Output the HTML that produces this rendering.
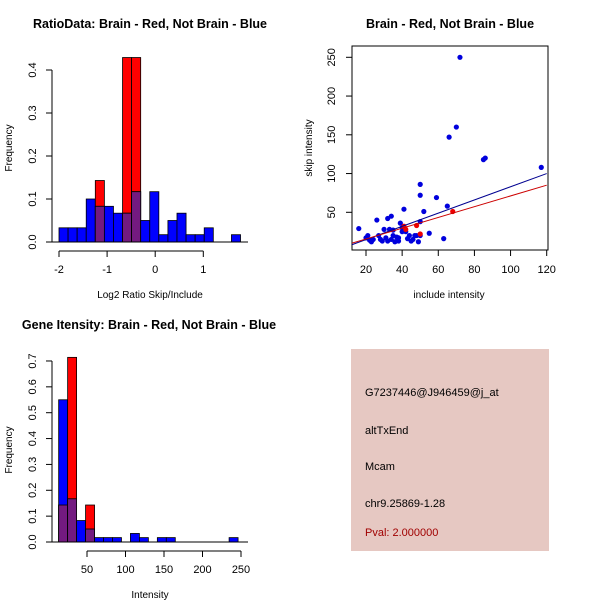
<!DOCTYPE html>
<html><head><meta charset="utf-8"><style>
body{margin:0;background:#fff}
svg{display:block;font-family:"Liberation Sans",sans-serif}
</style></head><body>
<svg id="c" width="600" height="600" viewBox="0 0 600 600">
<rect x="0" y="0" width="600" height="600" fill="#fff"/>
<text x="150" y="28" font-size="12.5" font-weight="bold" text-anchor="middle">RatioData: Brain - Red, Not Brain - Blue</text>
<text x="150" y="298" font-size="10" text-anchor="middle">Log2 Ratio Skip/Include</text>
<text transform="translate(12,148) rotate(-90)" font-size="10" text-anchor="middle">Frequency</text>
<text x="450" y="28" font-size="12.5" font-weight="bold" text-anchor="middle">Brain - Red, Not Brain - Blue</text>
<text x="449" y="298" font-size="10" text-anchor="middle">include intensity</text>
<text transform="translate(312,148) rotate(-90)" font-size="10" text-anchor="middle">skip intensity</text>
<text x="149" y="329" font-size="12.5" font-weight="bold" text-anchor="middle">Gene Itensity: Brain - Red, Not Brain - Blue</text>
<text x="150" y="598" font-size="10" text-anchor="middle">Intensity</text>
<text transform="translate(12,450) rotate(-90)" font-size="10" text-anchor="middle">Frequency</text>
<g>
<rect x="351" y="349" width="198" height="202" fill="#e6c8c2"/>
<text x="365" y="396" font-size="11">G7237446@J946459@j_at</text>
<text x="365" y="434" font-size="11">altTxEnd</text>
<text x="365" y="470" font-size="11">Mcam</text>
<text x="365" y="507" font-size="11">chr9.25869-1.28</text>
<text x="365" y="536" font-size="11" fill="#a00000">Pval: 2.000000</text>
</g>
</svg>
<script>
// Ratio histogram data
const ratioStart = -2, ratioBinW = 0.1887;
const ratioBlue = [0.033,0.033,0.033,0.1,0.083,0.083,0.067,0.067,0.117,0.05,0.117,0.017,0.05,0.067,0.017,0.017,0.033,0,0,0.017];
const ratioRed  = [0,0,0,0,0.143,0,0,0.429,0.429,0,0,0,0,0,0,0,0,0,0,0];
const ratioXTicks = [-2,-1,0,1];
const ratioYTicks = [0,0.1,0.2,0.3,0.4];
// Intensity histogram data
const intStart = 13.2, intBinW = 11.65;
const intBlue = [0.55,0.167,0.083,0.05,0.017,0.017,0.017,0,0.033,0.017,0,0.017,0.017,0,0,0,0,0,0,0.017];
const intRed  = [0.143,0.714,0,0.143,0,0,0,0,0,0,0,0,0,0,0,0,0,0,0,0];
const intXTicks = [50,100,150,200,250];
const intYTicks = [0,0.1,0.2,0.3,0.4,0.5,0.6,0.7];
// Scatter data
const blueX = [16,20,21,22,23,24,26,27,28,29,30,31,32,32,33,34,34,35,35,36,37,38,39,38,40,40,41,42,43,44,45,46,47,48,49,50,50,50,50,52,55,59,63,65,66,70,72,85,86,117];
const blueY = [29,17,20,14,12,15,40,20,15,13,28,17,42,13,28,45,15,20,27,12,18,13,36,17,30,25,54,25,16,20,13,15,20,20,12,86,72,38,20,51,23,69,16,58,147,160,250,118,120,108];
const redX = [41,42,48,50,68];
const redY = [32,28,33,22,51];
const blueLine = [[12,8],[120,100]];
const redLine = [[12,10],[120,85]];
const scXTicks = [20,40,60,80,100,120];
const scYTicks = [50,100,150,200,250];

const svg = document.getElementById('c');
const NS = 'http://www.w3.org/2000/svg';
function mk(tag, attrs){const e=document.createElementNS(NS,tag);for(const k in attrs)e.setAttribute(k,attrs[k]);svg.appendChild(e);return e;}

function hist(start,binW,blue,red,xs,ys,xTicks,yTicks,y0,yTop,prefix,xFmt){
  const sx=v=>xs[0]+(v-xs[1])*xs[2];
  const sy=v=>y0-v*ys;
  for(let i=0;i<blue.length;i++){
    const a=sx(start+i*binW), b=sx(start+(i+1)*binW);
    const r=red[i], bl=blue[i], m=Math.min(r,bl);
    if(r>0){const e=mk('rect',{x:a,y:sy(r),width:b-a,height:sy(0)-sy(r),fill:'#ff0000',stroke:'#000','stroke-width':0.8});
      
      }
    if(bl>0){const e=mk('rect',{x:a,y:sy(bl),width:b-a,height:sy(0)-sy(bl),fill:'#0000ff',stroke:'#000','stroke-width':0.8});
      
      }
    if(m>0){const e=mk('rect',{x:a,y:sy(m),width:b-a,height:sy(0)-sy(m),fill:'#731a80',stroke:'#000','stroke-width':0.8});
      
      }
  }
  const bl=mk('line',{x1:52,x2:248,y1:y0,y2:y0,stroke:'#000'});
  
  
  const xa=mk('line',{x1:sx(xTicks[0]),x2:sx(xTicks[xTicks.length-1]),y1:y0+9,y2:y0+9,stroke:'#000'});
  
  
  xTicks.forEach(t=>{mk('line',{x1:sx(t),x2:sx(t),y1:y0+9,y2:y0+15,stroke:'#000'});
    const e=mk('text',{x:sx(t),y:y0+31,'font-size':11,'text-anchor':'middle'});e.textContent=xFmt(t);
    
    });
  const ya=mk('line',{x1:52,x2:52,y1:sy(yTicks[0]),y2:sy(yTicks[yTicks.length-1]),stroke:'#000'});
  
  
  yTicks.forEach(t=>{mk('line',{x1:46,x2:52,y1:sy(t),y2:sy(t),stroke:'#000'});
    const e=mk('text',{transform:`translate(36,${sy(t)}) rotate(-90)`,'font-size':11,'text-anchor':'middle'});e.textContent=t.toFixed(1);
    
    });
}
hist(ratioStart,ratioBinW,ratioBlue,ratioRed,[59,-2,48.1],430,ratioXTicks,ratioYTicks,242,70,'ratio',t=>String(t));
hist(intStart,intBinW,intBlue,intRed,[87,50,0.77],258.6,intXTicks,intYTicks,542,361,'intensity',t=>String(t));

// scatter
const px=v=>366+(v-20)*1.807;
const py=v=>212.3-(v-50)*0.775;
const box=mk('rect',{x:352,y:46,width:196,height:204,fill:'none',stroke:'#000'});


const defs=mk('clipPath',{id:'clp'});
const cr=document.createElementNS(NS,'rect');cr.setAttribute('x',352);cr.setAttribute('y',46);cr.setAttribute('width',196);cr.setAttribute('height',204);defs.appendChild(cr);
blueX.forEach((x,i)=>{const e=mk('circle',{cx:px(x),cy:py(blueY[i]),r:2.6,fill:'#0000dd'});
  
  });
redX.forEach((x,i)=>{const e=mk('circle',{cx:px(x),cy:py(redY[i]),r:2.6,fill:'#ee0000'});
  
  });
const l1=mk('line',{x1:px(blueLine[0][0]),y1:py(blueLine[0][1]),x2:px(blueLine[1][0]),y2:py(blueLine[1][1]),stroke:'#000090','clip-path':'url(#clp)'});


const l2=mk('line',{x1:px(redLine[0][0]),y1:py(redLine[0][1]),x2:px(redLine[1][0]),y2:py(redLine[1][1]),stroke:'#cc0000','clip-path':'url(#clp)'});


scXTicks.forEach(t=>{mk('line',{x1:px(t),x2:px(t),y1:250,y2:256,stroke:'#000'});
  const e=mk('text',{x:px(t),y:273,'font-size':11,'text-anchor':'middle'});e.textContent=t;
  
  });
scYTicks.forEach(t=>{mk('line',{x1:346,x2:352,y1:py(t),y2:py(t),stroke:'#000'});
  const e=mk('text',{transform:`translate(335,${py(t)}) rotate(-90)`,'font-size':11,'text-anchor':'middle'});e.textContent=t;
  
  });
</script>
</body></html>
